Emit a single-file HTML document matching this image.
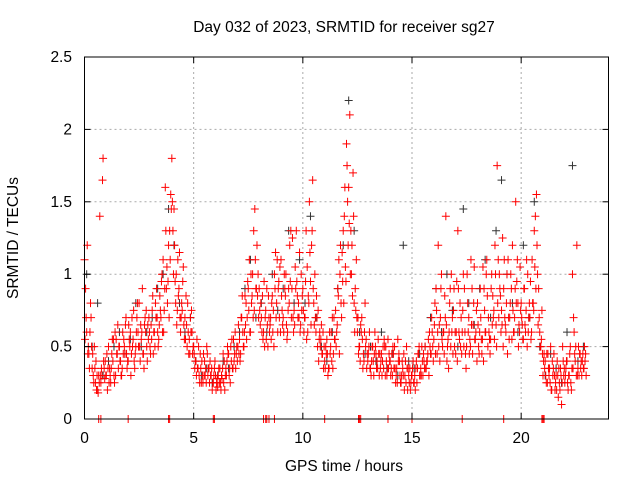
<!DOCTYPE html>
<html><head><meta charset="utf-8"><style>
body{margin:0;background:#fff;width:640px;height:480px;overflow:hidden;font-family:"Liberation Sans",sans-serif}
svg text{font-family:"Liberation Sans",sans-serif;font-size:15.5px;fill:#000}
</style></head><body>
<svg id="chart" width="640" height="480">
<text x="344" y="32" text-anchor="middle">Day 032 of 2023, SRMTID for receiver sg27</text>
<text x="344" y="471" text-anchor="middle">GPS time / hours</text>
<text transform="translate(18,238) rotate(-90)" text-anchor="middle">SRMTID / TECUs</text>
<g id="grid"></g><g id="marks"></g><g id="axes"></g>
</svg>
<script>
const xTicks=[0,5,10,15,20];
const yTicks=[0,0.5,1,1.5,2,2.5];
const yTickLabels=["0","0.5","1","1.5","2","2.5"];
const redA=[1.1,0.6,0.45,0.7,0.3,0.25,0.2,1.4,0.3,0.35,0.3,0.5,0.25,0.4,0.6,0.45,0.5,0.3,0.55,0.7,0.4,0.6,0.5,0.35,0.7,0.8,0.55,0.45,0.6,0.65,0.5,0.75,0.6,0.9,0.55,0.7,1.1,1.6,0.8,1.3,1.8,1.45,1.0,0.85,0.6,0.95,0.7,0.5,0.55,0.75,0.5,0.4,0.35,0.45,0.3,0.4,0.5,0.35,0.3,0.25,0.3,0.22,0.35,0.28,0.4,0.3,0.45,0.5,0.35,0.6,0.4,0.55,0.7,0.5,0.8,0.9,0.6,1.0,1.45,1.2,0.9,0.7,0.6,0.75,0.5,0.65,0.85,1.0,0.8,0.95,1.1,0.7,0.85,0.6,1.2,0.9,0.75,1.3,0.8,0.65,0.9,0.7,1.05,1.5,1.2,0.8,0.6,0.75,0.5,0.45,0.4,0.55,0.35,0.6,0.45,0.75,0.9,1.0,1.15,1.4,1.9,1.6,1.3,1.7,0.9,0.6,0.5,0.7,0.4,0.55,0.45,0.35,0.5,0.6,0.4,0.3,0.45,0.35,0.5,0.55,0.4,0.3,0.5,0.35,0.45,0.25,0.3,0.4,0.2,0.35,0.3,0.25,0.4,0.45,0.35,0.3,0.5,0.4,0.6,0.7,0.55,0.9,1.2,0.7,0.5,0.85,0.4,0.6,1.0,0.75,0.45,1.3,0.8,0.6,0.9,0.5,0.7,1.1,0.65,0.55,0.8,0.6,0.45,0.9,1.0,0.7,0.55,0.85,1.2,1.75,1.0,0.75,0.9,0.6,1.1,0.8,1.2,0.7,0.95,0.65,0.8,0.55,0.6,1.0,0.7,1.1,1.3,1.55,0.9,0.5,0.3,0.4,0.25,0.35,0.2,0.45,0.3,0.15,0.35,0.5,0.25,0.4,0.3,0.2,0.7,0.5,0.35,0.45,0.4,0.5];
const redB=[0.9,0.45,0.6,0.35,0.5,0.2,0.3,0.25,1.8,0.4,0.2,0.35,0.45,0.3,0.55,0.35,0.4,0.6,0.45,0.35,0.55,0.45,0.75,0.5,0.6,0.4,0.9,0.65,0.5,0.7,0.65,0.45,0.8,0.6,0.85,1.0,0.75,0.9,1.2,1.55,1.3,0.95,0.75,1.15,0.8,0.65,0.85,0.6,0.7,0.45,0.35,0.55,0.3,0.25,0.45,0.35,0.3,0.4,0.2,0.35,0.25,0.35,0.2,0.45,0.3,0.5,0.35,0.55,0.4,0.45,0.65,0.45,0.6,0.85,0.7,1.1,0.8,1.3,0.9,1.0,0.65,0.85,0.5,0.9,0.7,0.55,0.75,1.15,0.6,1.05,0.75,1.0,0.65,0.9,1.3,0.7,1.05,0.85,1.15,0.75,0.6,1.3,0.85,0.95,1.65,1.0,0.7,0.55,0.65,0.35,0.5,0.3,0.45,0.7,0.55,0.6,1.1,0.8,1.3,1.05,1.5,2.1,1.2,0.8,1.1,0.45,0.65,0.35,0.8,0.45,0.6,0.4,0.3,0.45,0.55,0.35,0.4,0.5,0.3,0.45,0.35,0.45,0.25,0.55,0.3,0.4,0.2,0.5,0.3,0.25,0.4,0.2,0.35,0.3,0.5,0.4,0.35,0.55,0.45,0.5,0.8,0.45,0.65,1.0,0.6,1.4,0.55,0.9,0.7,0.5,0.95,0.6,0.7,1.0,0.45,0.8,0.55,0.9,1.05,0.75,0.5,0.7,1.05,0.6,0.85,0.55,1.0,0.75,0.65,1.1,0.85,1.25,0.7,1.0,0.55,0.9,0.6,1.5,0.8,1.05,0.65,0.9,1.1,0.7,0.55,0.8,1.4,1.0,0.6,0.75,0.45,0.25,0.35,0.5,0.3,0.2,0.4,0.25,0.1,0.3,0.35,0.2,0.5,1.0,0.45,1.2,0.3,0.4,0.35,0.45];
const redC=[0.55,1.2,0.35,0.5,0.25,0.4,0.18,0.3,1.65,0.28,0.45,0.25,0.35,0.55,0.3,0.65,0.4,0.35,0.5,0.45,0.65,0.3,0.55,0.45,0.8,0.5,0.6,0.35,0.75,0.55,0.45,0.85,0.5,0.7,0.65,0.95,0.6,1.3,0.95,1.1,1.5,1.2,0.65,0.9,0.7,1.05,0.55,0.8,0.45,0.6,0.45,0.3,0.5,0.35,0.25,0.3,0.45,0.25,0.35,0.3,0.2,0.3,0.25,0.35,0.2,0.4,0.3,0.4,0.55,0.35,0.5,0.4,0.85,0.6,0.55,0.75,1.0,0.7,1.1,0.85,0.75,0.6,0.95,0.55,0.85,0.7,0.6,0.9,1.1,0.7,0.85,0.6,1.0,0.75,0.95,1.25,0.65,0.95,0.7,1.0,0.75,0.95,0.6,1.15,1.3,0.65,0.85,0.4,0.55,0.6,0.35,0.45,0.6,0.4,0.7,0.5,0.85,1.2,0.95,1.6,1.75,1.35,1.0,1.4,0.75,0.7,0.4,0.55,0.6,0.35,0.5,0.3,0.4,0.5,0.35,0.45,0.3,0.55,0.4,0.35,0.3,0.5,0.35,0.25,0.4,0.3,0.45,0.25,0.35,0.2,0.35,0.3,0.25,0.5,0.3,0.45,0.35,0.45,0.5,0.6,0.65,0.75,0.5,0.9,0.6,0.7,0.5,0.8,0.6,0.9,0.6,0.9,0.5,0.75,0.6,1.0,0.45,0.65,0.8,0.6,0.65,0.9,0.55,0.75,1.1,0.6,0.9,0.7,1.0,0.8,0.9,0.65,1.1,0.8,0.7,1.0,0.75,0.9,1.1,0.6,0.7,0.9,0.75,0.6,0.95,0.8,1.05,1.2,0.7,0.55,0.4,0.3,0.45,0.25,0.4,0.3,0.2,0.35,0.3,0.4,0.3,0.25,0.45,0.35,0.6,0.3,0.5,0.35,0.45,0.4];
const redD=[0.7,0.5,0.8,0.45,0.35,0.3,0.25,0.35,0.4,0.3,0.35,0.3,0.55,0.25,0.45,0.5,0.3,0.45,0.65,0.4,0.5,0.7,0.4,0.6,0.5,0.65,0.45,0.7,0.4,0.6,0.55,0.6,0.7,0.5,0.75,0.6,0.9,1.05,0.7,1.45,1.0,0.8,1.1,0.7,0.75,0.55,0.65,0.45,0.6,0.5,0.4,0.35,0.25,0.4,0.3,0.25,0.35,0.3,0.25,0.4,0.28,0.25,0.3,0.25,0.35,0.45,0.25,0.35,0.45,0.5,0.45,0.7,0.5,0.65,0.95,0.6,0.85,0.75,0.9,0.7,0.8,0.55,0.7,0.65,0.6,0.8,0.5,0.7,0.9,0.6,0.65,0.9,0.55,0.8,0.7,0.6,0.9,0.7,0.6,0.85,0.7,0.55,0.8,0.65,0.9,0.7,0.5,0.6,0.45,0.5,0.45,0.35,0.5,0.35,0.55,0.65,0.45,0.7,0.8,0.95,1.2,1.0,0.85,0.6,0.7,0.5,0.6,0.45,0.5,0.4,0.35,0.5,0.45,0.35,0.45,0.4,0.5,0.3,0.35,0.4,0.45,0.35,0.3,0.4,0.25,0.35,0.3,0.35,0.25,0.3,0.25,0.35,0.45,0.3,0.4,0.35,0.4,0.3,0.45,0.4,0.45,0.6,0.4,0.55,0.45,0.65,0.35,0.5,0.45,0.6,0.4,0.55,0.45,0.5,0.35,0.6,0.5,0.45,0.55,0.4,0.45,0.55,0.4,0.6,0.5,0.45,0.65,0.55,0.5,0.7,0.6,0.5,0.65,0.45,0.7,0.55,0.6,0.8,0.5,0.75,0.55,0.65,0.5,0.8,0.6,0.75,0.9,0.65,0.5,0.45,0.35,0.45,0.3,0.2,0.35,0.25,0.3,0.2,0.25,0.35,0.4,0.3,0.25,0.35,0.4,0.3,0.45,0.3,0.35,0.3];
const blackS=[1.0,0.5,0.8,0.3,0.4,0.5,0.6,0.45,0.55,0.8,0.5,0.6,0.7,0.9,1.0,1.45,1.2,0.8,0.6,0.7,0.4,0.3,0.35,0.25,0.3,0.4,0.35,0.5,0.6,0.9,1.1,0.7,0.8,0.6,1.0,0.75,0.9,1.3,0.8,1.1,0.8,1.4,0.7,0.5,0.4,0.6,0.9,1.2,2.2,1.3,0.6,0.45,0.5,0.4,0.6,0.35,0.45,0.3,1.2,0.4,0.35,0.45,0.5,0.7,0.9,0.6,1.0,0.75,0.5,1.45,0.8,0.65,0.9,1.1,0.7,1.3,1.65,1.0,0.8,0.6,1.2,0.7,1.5,0.5,0.3,0.45,0.35,0.25,0.6,1.75,0.4,0.5];
const zeroTimes=[0.65,0.75,2.0,3.85,3.9,5.9,5.95,8.2,8.3,8.35,8.45,8.7,11.0,12.55,12.6,12.65,13.9,15.0,17.3,19.2,20.95,21.0,21.05];
const stepR=0.1, offB=0.05, offC=0.025, offD=0.075, stepK=0.25, offK=0.1;
const L=84.5,R=608.5,T=57,B=419;
const X=v=>L+(v/24)*(R-L), Y=v=>B-(v/2.5)*(B-T);
const NS="http://www.w3.org/2000/svg";
function mk(tag,at,parent){const e=document.createElementNS(NS,tag);for(const k in at)e.setAttribute(k,at[k]);parent.appendChild(e);return e;}
const grid=document.getElementById('grid'),axes=document.getElementById('axes'),marks=document.getElementById('marks');
xTicks.forEach(t=>{
 if(t>0){const g=mk('line',{x1:X(t),x2:X(t),y1:T,y2:B,stroke:'#aaa','stroke-dasharray':'2,3'},grid);
 
 }
 mk('line',{x1:X(t),x2:X(t),y1:B,y2:B-6,stroke:'#000'},axes);
 mk('line',{x1:X(t),x2:X(t),y1:T,y2:T+6,stroke:'#000'},axes);
 const tx=mk('text',{x:X(t),y:443,'text-anchor':'middle'},axes);tx.textContent=t;
 
 
});
yTicks.forEach((t,i)=>{
 if(t>0&&t<2.5){const g=mk('line',{x1:L,x2:R,y1:Y(t),y2:Y(t),stroke:'#aaa','stroke-dasharray':'2,3'},grid);
 
 }
 mk('line',{x1:L,x2:L+6,y1:Y(t),y2:Y(t),stroke:'#000'},axes);
 mk('line',{x1:R,x2:R-6,y1:Y(t),y2:Y(t),stroke:'#000'},axes);
 const tx=mk('text',{x:72,y:Y(t)+5,'text-anchor':'end'},axes);tx.textContent=yTickLabels[i];
 
 
});
const frame=mk('rect',{x:L,y:T,width:R-L,height:B-T,fill:'none',stroke:'#000'},axes);


function plus(t,v,col,name){
 const x=X(t),y=Y(v);
 const p=mk('path',{d:`M${x-4} ${y}H${x+4}M${x} ${y-4}V${y+4}`,stroke:col,'stroke-width':1,fill:'none'},marks);
 
 
}
blackS.forEach((v,i)=>plus(offK+i*stepK,v,'#333','black-point'));
redA.forEach((v,i)=>plus(i*stepR,v,'#f00','red-point'));
redB.forEach((v,i)=>plus(offB+i*stepR,v,'#f00','red-point'));
redC.forEach((v,i)=>plus(offC+i*stepR,v,'#f00','red-point'));
redD.forEach((v,i)=>plus(offD+i*stepR,v,'#f00','red-point'));
zeroTimes.forEach(t=>plus(t,0,'#f00','zero-point'));
</script>
</body></html>
